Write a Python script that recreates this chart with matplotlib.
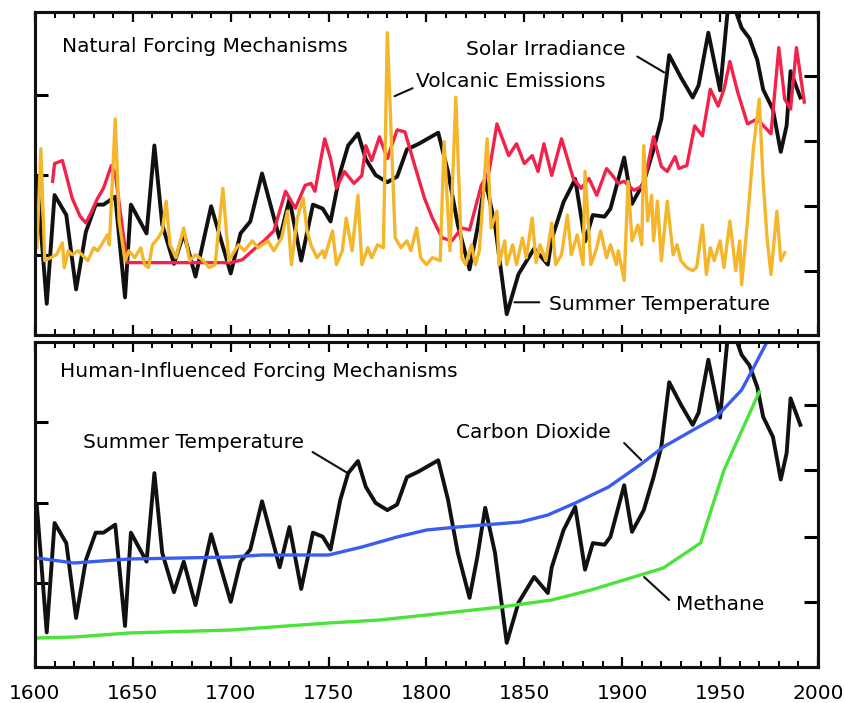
import matplotlib
matplotlib.use("Agg")
import matplotlib.pyplot as plt
from matplotlib.ticker import MultipleLocator

plt.rcParams['font.family'] = ['DejaVu Sans']

# summer temperature anomaly (deg C), same record in both panels
temp_years = [1601, 1606, 1610, 1616, 1621, 1626, 1631, 1635, 1641, 1646,
              1649, 1657, 1661, 1665, 1671, 1676, 1682, 1690, 1700, 1705,
              1710, 1716, 1725, 1730, 1736, 1742, 1747, 1751, 1756, 1760,
              1765, 1769, 1774, 1780, 1785, 1790, 1796, 1801, 1806, 1811,
              1816, 1822, 1826, 1830, 1835, 1841, 1847, 1855, 1862, 1864,
              1870, 1876, 1881, 1885, 1891, 1894, 1901, 1905, 1911, 1916,
              1920, 1924, 1930, 1936, 1939, 1944, 1950, 1954, 1958, 1961,
              1965, 1969, 1972, 1977, 1981, 1984, 1986, 1991]
temp = [-0.05, -1.61, -0.25, -0.50, -1.43, -0.71, -0.37, -0.37, -0.27, -1.53,
        -0.37, -0.73, 0.37, -0.62, -1.11, -0.73, -1.27, -0.39, -1.23, -0.73,
        -0.58, 0.02, -0.80, -0.30, -1.07, -0.37, -0.42, -0.58, 0.04, 0.37,
        0.52, 0.20, 0.00, -0.09, -0.02, 0.32, 0.39, 0.46, 0.53, 0.04,
        -0.62, -1.18, -0.67, -0.06, -0.62, -1.74, -1.24, -0.92, -1.12, -0.80,
        -0.34, -0.05, -0.83, -0.50, -0.52, -0.42, 0.22, -0.36, -0.09, 0.32,
        0.70, 1.50, 1.22, 0.97, 1.12, 1.78, 1.06, 2.09, 2.05, 1.84,
        1.71, 1.44, 1.07, 0.82, 0.29, 0.62, 1.30, 0.97]

# solar irradiance (relative forcing index)
solar_years = [1609, 1610, 1614, 1616, 1619, 1623, 1626, 1629, 1632, 1635,
               1639, 1641, 1647, 1700, 1706, 1711, 1717, 1722, 1728, 1733,
               1738, 1741, 1743, 1748, 1751, 1754, 1758, 1763, 1767, 1769,
               1772, 1776, 1780, 1785, 1789, 1794, 1799, 1803, 1808, 1813,
               1818, 1822, 1828, 1832, 1836, 1842, 1846, 1850, 1854, 1857,
               1860, 1864, 1869, 1875, 1879, 1883, 1887, 1892, 1895, 1898,
               1901, 1906, 1911, 1916, 1920, 1923, 1927, 1929, 1933, 1937,
               1941, 1945, 1949, 1952, 1955, 1959, 1964, 1969, 1976, 1980,
               1983, 1986, 1989, 1993]
solar = [152, 170, 173, 158, 135, 117, 110, 122, 135, 145,
         168, 160, 70, 70, 73, 82, 92, 102, 142, 125,
         148, 150, 142, 195, 175, 145, 162, 150, 158, 188,
         173, 197, 175, 204, 202, 168, 135, 115, 95, 92,
         105, 103, 148, 162, 210, 178, 190, 170, 178, 162,
         190, 158, 195, 155, 145, 155, 138, 165, 158, 150,
         152, 143, 148, 197, 167, 162, 177, 165, 168, 208,
         198, 245, 228, 245, 273, 242, 210, 215, 200, 287,
         235, 225, 287, 232]

# volcanic emissions (relative forcing index)
volc_years = [1601, 1603, 1605, 1608, 1611, 1614, 1615, 1617, 1619, 1622,
              1624, 1627, 1630, 1632, 1634, 1637, 1638, 1641, 1643, 1646,
              1648, 1651, 1654, 1656, 1658, 1660, 1663, 1665, 1667, 1669,
              1672, 1676, 1679, 1682, 1686, 1689, 1692, 1696, 1699, 1702,
              1704, 1707, 1711, 1714, 1719, 1722, 1726, 1729, 1731, 1734,
              1737, 1739, 1741, 1744, 1747, 1748, 1752, 1754, 1757, 1759,
              1762, 1765, 1767, 1770, 1772, 1775, 1778, 1780, 1784, 1787,
              1790, 1792, 1795, 1797, 1800, 1803, 1807, 1809, 1812, 1815,
              1818, 1820, 1823, 1825, 1827, 1831, 1833, 1836, 1837, 1840,
              1841, 1844, 1846, 1849, 1851, 1854, 1856, 1858, 1861, 1864,
              1866, 1869, 1872, 1874, 1877, 1880, 1881, 1884, 1887, 1889,
              1892, 1894, 1897, 1898, 1901, 1903, 1905, 1908, 1910, 1911,
              1913, 1915, 1916, 1918, 1920, 1921, 1923, 1926, 1928, 1930,
              1933, 1936, 1938, 1941, 1943, 1945, 1947, 1950, 1952, 1955,
              1958, 1960, 1961, 1964, 1967, 1970, 1972, 1974, 1976, 1979,
              1981, 1983]
volc = [85, 185, 72, 75, 78, 90, 65, 82, 78, 82,
        78, 72, 85, 82, 88, 98, 88, 215, 112, 72,
        82, 75, 85, 68, 65, 88, 95, 102, 132, 88,
        75, 105, 72, 78, 72, 65, 68, 145, 72, 82,
        88, 82, 92, 85, 92, 82, 95, 122, 68, 115,
        135, 102, 88, 75, 82, 75, 102, 68, 82, 115,
        82, 138, 68, 85, 75, 88, 85, 302, 95, 85,
        92, 82, 105, 75, 68, 75, 72, 192, 82, 237,
        75, 68, 88, 68, 82, 195, 105, 122, 68, 92,
        68, 88, 68, 95, 75, 115, 70, 88, 72, 110,
        68, 78, 118, 78, 98, 68, 162, 68, 85, 102,
        75, 88, 68, 82, 52, 152, 92, 108, 88, 188,
        112, 138, 92, 132, 72, 92, 132, 78, 88, 72,
        65, 62, 65, 108, 58, 85, 72, 92, 65, 112,
        62, 92, 48, 112, 185, 235, 152, 95, 58, 122,
        72, 80]

# carbon dioxide and methane (relative forcing index)
co2_years = [1601, 1620, 1648, 1700, 1716, 1750, 1767, 1785, 1800, 1816,
             1848, 1862, 1876, 1893, 1909, 1921, 1938, 1948, 1961, 1967, 1975]
co2 = [109, 104, 108, 110, 112, 112, 120, 130, 137, 140,
       145, 152, 164, 180, 202, 220, 239, 250, 277, 299, 329]

ch4_years = [1601, 1620, 1648, 1700, 1750, 1776, 1800, 1838, 1864, 1884,
             1921, 1940, 1952, 1970]
ch4 = [29, 30, 34, 37, 44, 47, 52, 60, 67, 77, 99, 124, 197, 275]

x_ticks = [1600, 1650, 1700, 1750, 1800, 1850, 1900, 1950, 2000]

BLACK = '#111111'
RED = '#f2234a'
ORANGE = '#f4b62a'
BLUE = '#3a5cef'
GREEN = '#4be33a'
FS = 14.5

fig = plt.figure(figsize=(8.45, 7.03), dpi=100)
ax_top = fig.add_axes([0.0414, 0.5235, 0.9266, 0.4595])
ax_bot = fig.add_axes([0.0414, 0.0512, 0.9266, 0.4623])


def style_panel(ax, ax2, temp_lim, force_lim, right_ticks, show_labels):
    ax.set_xlim(1600, 2000)
    ax.set_ylim(*temp_lim)
    ax2.set_ylim(*force_lim)
    ax.set_yticks([-1, 0, 1])
    ax2.set_yticks(right_ticks)
    ax.xaxis.set_major_locator(MultipleLocator(50))
    ax.xaxis.set_minor_locator(MultipleLocator(10))
    ax.tick_params(axis='x', which='major', direction='in', top=True,
                   bottom=True, length=7, width=1.6, pad=12,
                   labelsize=FS, labelbottom=show_labels)
    ax.tick_params(axis='x', which='minor', direction='in', top=True,
                   bottom=True, length=4, width=1.4)
    ax.tick_params(axis='y', direction='in', length=9, width=2.2,
                   labelleft=False)
    ax2.tick_params(axis='y', direction='in', length=10, width=2.2,
                    labelright=False)
    for a in (ax, ax2):
        for sp in a.spines.values():
            sp.set_linewidth(2.2)
            sp.set_color(BLACK)


# top panel: natural forcing
ax_top2 = ax_top.twinx()
ax_top.plot(temp_years, temp, color=BLACK, lw=2.8, solid_joinstyle='round')
ax_top2.plot(solar_years, solar, color=RED, lw=2.4, solid_joinstyle='round')
ax_top2.plot(volc_years, volc, color=ORANGE, lw=2.4, solid_joinstyle='round')
style_panel(ax_top, ax_top2, (-2.0, 2.04), (-3, 323), [62, 127, 193, 258], False)
ax_top.set_xticks(x_ticks)

ax_top.text(0.0345, 0.876, 'Natural Forcing Mechanisms', transform=ax_top.transAxes,
            fontsize=FS, va='baseline', ha='left')
ax_top2.text(1820.4, 280, 'Solar Irradiance', fontsize=FS, va='baseline')
ax_top2.annotate('', xy=(1921.4, 262), xytext=(1907.7, 278),
                 arrowprops=dict(arrowstyle='-', lw=1.5, color=BLACK,
                                 shrinkA=0, shrinkB=0))
ax_top2.text(1794.4, 247, 'Volcanic Emissions', fontsize=FS, va='baseline')
ax_top2.annotate('', xy=(1783.7, 238), xytext=(1792.9, 246),
                 arrowprops=dict(arrowstyle='-', lw=1.5, color=BLACK,
                                 shrinkA=0, shrinkB=0))
ax_top2.text(1862.8, 22, 'Summer Temperature', fontsize=FS, va='baseline')
ax_top2.annotate('', xy=(1844.9, 30), xytext=(1857.7, 30),
                 arrowprops=dict(arrowstyle='-', lw=1.5, color=BLACK,
                                 shrinkA=0, shrinkB=0))

# bottom panel: human-influenced forcing
ax_bot2 = ax_bot.twinx()
ax_bot.plot(temp_years, temp, color=BLACK, lw=2.8, solid_joinstyle='round')
ax_bot2.plot(co2_years, co2, color=BLUE, lw=2.4)
ax_bot2.plot(ch4_years, ch4, color=GREEN, lw=2.4)
style_panel(ax_bot, ax_bot2, (-2.04, 2.0), (0, 325), [65, 130, 197, 262], True)
ax_bot.set_xticks(x_ticks)
ax_bot.set_xticklabels([str(t) for t in x_ticks])

ax_bot.text(0.032, 0.892, 'Human-Influenced Forcing Mechanisms',
            transform=ax_bot.transAxes, fontsize=FS, va='baseline', ha='left')
ax_bot2.text(1624.5, 219, 'Summer Temperature', fontsize=FS, va='baseline')
ax_bot2.annotate('', xy=(1759.7, 194), xytext=(1741.8, 215),
                 arrowprops=dict(arrowstyle='-', lw=1.5, color=BLACK,
                                 shrinkA=0, shrinkB=0))
ax_bot2.text(1815.3, 229, 'Carbon Dioxide', fontsize=FS, va='baseline')
ax_bot2.annotate('', xy=(1909.7, 207), xytext=(1901.0, 224),
                 arrowprops=dict(arrowstyle='-', lw=1.5, color=BLACK,
                                 shrinkA=0, shrinkB=0))
ax_bot2.text(1927.6, 57, 'Methane', fontsize=FS, va='baseline')
ax_bot2.annotate('', xy=(1911.2, 90), xytext=(1924.0, 67),
                 arrowprops=dict(arrowstyle='-', lw=1.5, color=BLACK,
                                 shrinkA=0, shrinkB=0))

fig.savefig('out.png', dpi=100)
